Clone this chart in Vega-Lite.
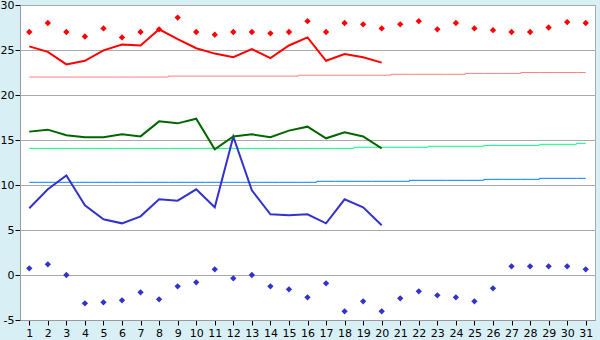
{
  "$schema": "https://vega.github.io/schema/vega-lite/v6.json",
  "width": 575,
  "height": 315,
  "autosize": {"type": "none"},
  "padding": {"left": 20, "top": 5, "right": 5, "bottom": 20},
  "background": "#d9eff6",
  "config": {
    "view": {"stroke": "#aaaaaa", "fill": "#ffffff"},
    "axis": {
      "labelFont": "DejaVu Sans",
      "labelFontSize": 11,
      "labelColor": "#000000",
      "tickColor": "#000000",
      "tickSize": 5,
      "domainColor": "#999999",
      "labelPadding": 2,
      "title": null
    },
    "axisY": {"values": [-5,0,5,10,15,20,25,30], "grid": true, "gridColor": "#aaaaaa", "gridOpacity": 1, "labelFlush": false, "labelPadding": 1, "labelExpr": "'' + datum.value"}
  },
  "data": {"values": [
    {"d":1,"mx":25.4,"rmx":27,"nmx":22.0,"mn":15.93,"nmn":14.07,"mi":7.41,"nmi":10.3,"rmi":0.74},
    {"d":2,"mx":24.8,"rmx":28,"nmx":22.0,"mn":16.15,"nmn":14.07,"mi":9.52,"nmi":10.3,"rmi":1.19},
    {"d":3,"mx":23.4,"rmx":27,"nmx":22.0,"mn":15.52,"nmn":14.07,"mi":11.07,"nmi":10.3,"rmi":0},
    {"d":4,"mx":23.8,"rmx":26.5,"nmx":22.0,"mn":15.3,"nmn":14.07,"mi":7.74,"nmi":10.3,"rmi":-3.15},
    {"d":5,"mx":24.96,"rmx":27.4,"nmx":22.0,"mn":15.3,"nmn":14.07,"mi":6.19,"nmi":10.3,"rmi":-3.04},
    {"d":6,"mx":25.6,"rmx":26.4,"nmx":22.0,"mn":15.63,"nmn":14.07,"mi":5.74,"nmi":10.3,"rmi":-2.81},
    {"d":7,"mx":25.5,"rmx":27,"nmx":22.0,"mn":15.4,"nmn":14.07,"mi":6.52,"nmi":10.3,"rmi":-1.93},
    {"d":8,"mx":27.3,"rmx":27.3,"nmx":22.0,"mn":17.07,"nmn":14.07,"mi":8.41,"nmi":10.3,"rmi":-2.7},
    {"d":9,"mx":26.2,"rmx":28.6,"nmx":22.1,"mn":16.85,"nmn":14.07,"mi":8.26,"nmi":10.3,"rmi":-1.26},
    {"d":10,"mx":25.2,"rmx":27,"nmx":22.1,"mn":17.37,"nmn":14.07,"mi":9.52,"nmi":10.3,"rmi":-0.81},
    {"d":11,"mx":24.6,"rmx":26.7,"nmx":22.1,"mn":13.96,"nmn":14.07,"mi":7.52,"nmi":10.3,"rmi":0.63},
    {"d":12,"mx":24.2,"rmx":27,"nmx":22.1,"mn":15.4,"nmn":14.07,"mi":15.37,"nmi":10.3,"rmi":-0.37},
    {"d":13,"mx":25.1,"rmx":27,"nmx":22.1,"mn":15.63,"nmn":14.07,"mi":9.41,"nmi":10.3,"rmi":0},
    {"d":14,"mx":24.1,"rmx":26.85,"nmx":22.1,"mn":15.3,"nmn":14.07,"mi":6.74,"nmi":10.3,"rmi":-1.26},
    {"d":15,"mx":25.5,"rmx":27,"nmx":22.1,"mn":16.04,"nmn":14.07,"mi":6.63,"nmi":10.3,"rmi":-1.59},
    {"d":16,"mx":26.4,"rmx":28.2,"nmx":22.2,"mn":16.48,"nmn":14.07,"mi":6.74,"nmi":10.3,"rmi":-2.48},
    {"d":17,"mx":23.8,"rmx":27,"nmx":22.2,"mn":15.19,"nmn":14.07,"mi":5.74,"nmi":10.41,"rmi":-0.93},
    {"d":18,"mx":24.55,"rmx":28,"nmx":22.2,"mn":15.85,"nmn":14.07,"mi":8.41,"nmi":10.41,"rmi":-4.04},
    {"d":19,"mx":24.2,"rmx":27.85,"nmx":22.2,"mn":15.4,"nmn":14.19,"mi":7.52,"nmi":10.41,"rmi":-2.93},
    {"d":20,"mx":23.6,"rmx":27.4,"nmx":22.2,"mn":14.07,"nmn":14.19,"mi":5.52,"nmi":10.41,"rmi":-4.04},
    {"d":21,"mx":null,"rmx":27.85,"nmx":22.3,"mn":null,"nmn":14.19,"mi":null,"nmi":10.41,"rmi":-2.59},
    {"d":22,"mx":null,"rmx":28.2,"nmx":22.3,"mn":null,"nmn":14.19,"mi":null,"nmi":10.52,"rmi":-1.81},
    {"d":23,"mx":null,"rmx":27.3,"nmx":22.3,"mn":null,"nmn":14.3,"mi":null,"nmi":10.52,"rmi":-2.26},
    {"d":24,"mx":null,"rmx":28,"nmx":22.3,"mn":null,"nmn":14.3,"mi":null,"nmi":10.52,"rmi":-2.48},
    {"d":25,"mx":null,"rmx":27.4,"nmx":22.4,"mn":null,"nmn":14.3,"mi":null,"nmi":10.52,"rmi":-2.93},
    {"d":26,"mx":null,"rmx":27.2,"nmx":22.4,"mn":null,"nmn":14.4,"mi":null,"nmi":10.63,"rmi":-1.48},
    {"d":27,"mx":null,"rmx":27,"nmx":22.4,"mn":null,"nmn":14.4,"mi":null,"nmi":10.63,"rmi":0.96},
    {"d":28,"mx":null,"rmx":27,"nmx":22.5,"mn":null,"nmn":14.4,"mi":null,"nmi":10.63,"rmi":0.96},
    {"d":29,"mx":null,"rmx":27.5,"nmx":22.5,"mn":null,"nmn":14.52,"mi":null,"nmi":10.74,"rmi":0.96},
    {"d":30,"mx":null,"rmx":28.1,"nmx":22.5,"mn":null,"nmn":14.52,"mi":null,"nmi":10.74,"rmi":0.96},
    {"d":31,"mx":null,"rmx":28,"nmx":22.5,"mn":null,"nmn":14.63,"mi":null,"nmi":10.74,"rmi":0.63}
  ]},
  "encoding": {
    "x": {"field": "d", "type": "quantitative",
      "scale": {"domain": [0.5, 31.5], "nice": false, "zero": false},
      "axis": {"values": [1,2,3,4,5,6,7,8,9,10,11,12,13,14,15,16,17,18,19,20,21,22,23,24,25,26,27,28,29,30,31], "grid": false, "labelFlush": false}}
  },
  "layer": [
    {"mark": {"type": "line", "color": "#0080ff", "strokeWidth": 1, "interpolate": "step"},
     "encoding": {"y": {"field": "nmi", "type": "quantitative",
       "scale": {"domain": [-5, 30], "nice": false, "zero": false}}}},
    {"mark": {"type": "line", "color": "#00ff80", "strokeWidth": 1, "interpolate": "step"},
     "encoding": {"y": {"field": "nmn", "type": "quantitative"}}},
    {"mark": {"type": "line", "color": "#ff8080", "strokeWidth": 1, "interpolate": "step"},
     "encoding": {"y": {"field": "nmx", "type": "quantitative"}}},
    {"mark": {"type": "line", "color": "#3333cc", "strokeWidth": 2},
     "encoding": {"y": {"field": "mi", "type": "quantitative"}}},
    {"mark": {"type": "line", "color": "#006600", "strokeWidth": 2},
     "encoding": {"y": {"field": "mn", "type": "quantitative"}}},
    {"mark": {"type": "line", "color": "#ff0000", "strokeWidth": 2},
     "encoding": {"y": {"field": "mx", "type": "quantitative"}}},
    {"mark": {"type": "point", "shape": "diamond", "filled": true, "color": "#ff0000", "size": 40, "opacity": 1},
     "encoding": {"y": {"field": "rmx", "type": "quantitative"}}},
    {"mark": {"type": "point", "shape": "diamond", "filled": true, "color": "#3333cc", "size": 40, "opacity": 1},
     "encoding": {"y": {"field": "rmi", "type": "quantitative"}}}
  ]
}
